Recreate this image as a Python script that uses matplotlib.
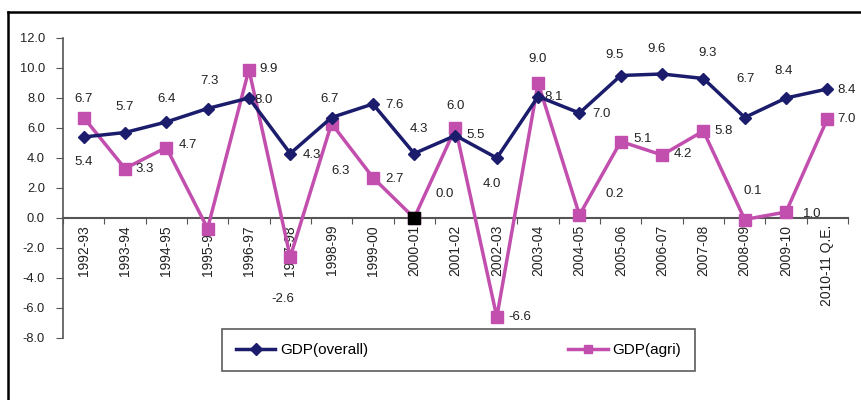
import matplotlib.pyplot as plt
import numpy as np

plt.rcParams['font.family'] = ['Liberation Sans', 'DejaVu Sans']

years = ['1992-93', '1993-94', '1994-95', '1995-96', '1996-97', '1997-98', '1998-99',
         '1999-00', '2000-01', '2001-02', '2002-03', '2003-04', '2004-05', '2005-06',
         '2006-07', '2007-08', '2008-09', '2009-10', '2010-11 Q.E.']
gdp_overall = [5.4, 5.7, 6.4, 7.3, 8.0, 4.3, 6.7, 7.6, 4.3, 5.5, 4.0, 8.1, 7.0, 9.5,
               9.6, 9.3, 6.7, 8.0, 8.6]
gdp_agri = [6.7, 3.3, 4.7, -0.7, 9.9, -2.6, 6.3, 2.7, 0.0, 6.0, -6.6, 9.0, 0.2, 5.1,
            4.2, 5.8, -0.1, 0.4, 6.6]
# numbers printed on the chart
overall_labels = ['5.4', '5.7', '6.4', '7.3', '8.0', '4.3', '6.7', '7.6', '4.3', '5.5',
                  '4.0', '8.1', '7.0', '9.5', '9.6', '9.3', '6.7', '8.4', '8.4']
agri_labels = ['6.7', '3.3', '4.7', '', '9.9', '-2.6', '6.3', '2.7', '0.0', '6.0',
               '-6.6', '9.0', '0.2', '5.1', '4.2', '5.8', '0.1', '1.0', '7.0']

# label offsets in pixels
off_overall = [(0, -25), (0, 25), (0, 23), (2, 28), (15, -2), (22, -1), (-2, 19),
               (22, -1), (5, 25), (20, 0), (-5, -26), (15, -1), (22, -1), (-6, 20),
               (-6, 25), (4, 26), (1, 38), (-2, 27), (19, -1)]
off_agri = [(0, 19), (20, 0), (22, 2), (0, 0), (20, 1), (-7, -42), (9, -48), (22, -1),
            (31, 24), (0, 22), (23, 0), (-1, 24), (35, 21), (22, 2), (21, 1), (20, 0),
            (8, 29), (26, -2), (19, 0)]

navy = '#1b1c6c'
pink = '#c24fae'

x = np.arange(len(years))
fig = plt.figure(figsize=(8.62, 4.0), dpi=100)
ax = fig.add_axes([63/862, 62/400, 785/862, 300/400])

l1, = ax.plot(x, gdp_overall, color=navy, lw=2.5, marker='D', ms=6, label='GDP(overall)', zorder=4)
l2, = ax.plot(x, gdp_agri, color=pink, lw=2.5, marker='s', ms=8, label='GDP(agri)', zorder=3)
ax.plot(x[8], gdp_agri[8], marker='s', ms=8, color='black', zorder=5)

for i in range(len(x)):
    ax.annotate(overall_labels[i], (x[i], gdp_overall[i]), xytext=off_overall[i],
                textcoords='offset pixels', ha='center', va='center', fontsize=9.5, color='#222222')
    if agri_labels[i]:
        ax.annotate(agri_labels[i], (x[i], gdp_agri[i]), xytext=off_agri[i],
                    textcoords='offset pixels', ha='center', va='center', fontsize=9.5, color='#222222')

ax.set_xlim(-0.5, len(years) - 0.5)
ax.set_ylim(-8, 12)
ax.spines['top'].set_visible(False)
ax.spines['right'].set_visible(False)
ax.spines['bottom'].set_position(('data', 0))
ax.spines['bottom'].set_color('#555555')
ax.spines['left'].set_color('#555555')
ax.spines['bottom'].set_linewidth(1.5)
ax.spines['left'].set_linewidth(1.2)

ax.set_xticks(np.arange(len(years) + 1) - 0.5)
ax.set_xticklabels([])
ax.set_xticks(x, minor=True)
ax.set_xticklabels(years, minor=True, rotation=90, fontsize=10, color='#222222')
ax.tick_params(axis='x', which='major', length=4, color='#555555', direction='out')
ax.tick_params(axis='x', which='minor', length=0, pad=5)

ax.set_yticks(np.arange(-8, 13, 2))
ax.set_yticklabels(['%.1f' % v for v in np.arange(-8, 13, 2)], fontsize=9.3, color='#222222')
ax.tick_params(axis='y', length=5, color='#555555', pad=8)

leg = fig.legend(handles=[l1, l2], loc='center', ncol=2, mode='expand',
                 bbox_to_anchor=(222/862, 28/400, 473/862, 44/400), borderaxespad=0,
                 fontsize=11, frameon=True, fancybox=False, handlelength=2.6,
                 borderpad=0.9, handletextpad=0.3)
leg.get_frame().set_edgecolor('#333333')
leg.get_frame().set_linewidth(1.2)
for h in leg.legend_handles:
    h.set_markersize(6)

# outer frame
fig.add_artist(plt.Line2D([8/862, 1], [1 - 12/400, 1 - 12/400], color='black', lw=1.8, transform=fig.transFigure))
fig.add_artist(plt.Line2D([8/862, 8/862], [0, 1 - 12/400], color='black', lw=1.8, transform=fig.transFigure))

fig.savefig('out.png', dpi=100)
